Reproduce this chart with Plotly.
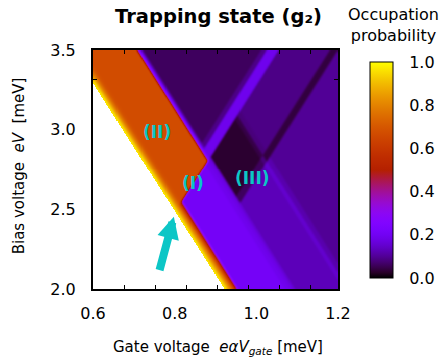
import numpy as np
import plotly.graph_objects as go

# ---------------- data ----------------
# Axis extents (meV)
GATE_RANGE = [0.6, 1.2]
BIAS_RANGE = [2.0, 3.5]
X_TICKS = [0.6, 0.8, 1.0, 1.2]
Y_TICKS = [2.0, 2.5, 3.0, 3.5]
X_MINOR = [0.676, 0.752, 0.828, 0.904, 0.980, 1.056, 1.132]
Y_MINOR = [3.316]
CB_TICKS = [0.0, 0.2, 0.4, 0.6, 0.8, 1.0]

# The map is organised by two families of resonance lines:
#   c = Vg + V/4  (lines running down-right)   d = Vg - V/4 (lines running up-right)
# Boundaries of the regions
C_EDGES = [1.4225, 1.429, 1.436, 1.443, 1.450, 1.455, 1.570, 1.582, 1.589,
           1.595, 1.714, 1.726, 1.740]
D_EDGES = [0.138, 0.152, 0.180, 0.306, 0.326]

NAN = float("nan")
# occupation probability of each region: rows = c band, columns = d band
LEVELS = [
    [NAN, NAN, NAN, NAN, NAN, NAN],              # outside computed area
    [0.97, 0.97, 0.97, 0.97, 0.97, 0.97],        # yellow edge
    [0.86, 0.86, 0.86, 0.86, 0.86, 0.86],
    [0.76, 0.76, 0.76, 0.76, 0.76, 0.76],
    [0.69, 0.69, 0.69, 0.62, 0.62, 0.62],
    [0.67, 0.67, 0.67, 0.42, 0.42, 0.42],
    [0.67, 0.67, 0.67, 0.21, 0.21, 0.21],        # (II) orange / (I) violet
    [0.67, 0.67, 0.67, 0.19, 0.19, 0.19],
    [0.26, 0.26, 0.26, 0.18, 0.18, 0.18],        # violet edge line
    [0.14, 0.14, 0.19, 0.16, 0.16, 0.16],
    [0.06, 0.09, 0.19, 0.03, 0.06, 0.13],        # (III) diamond
    [0.06, 0.09, 0.19, 0.045, 0.08, 0.15],
    [0.06, 0.09, 0.19, 0.08, 0.04, 0.12],
    [0.06, 0.09, 0.19, 0.088, 0.04, 0.10],
]

# ---------------- build the image ----------------
nx, ny = 480, 480
gate = GATE_RANGE[0] + (np.arange(nx) + 0.5) * (GATE_RANGE[1] - GATE_RANGE[0]) / nx
bias = BIAS_RANGE[0] + (np.arange(ny) + 0.5) * (BIAS_RANGE[1] - BIAS_RANGE[0]) / ny
G, B = np.meshgrid(gate, bias)
ci = np.digitize(G + B / 4.0, C_EDGES)
di = np.digitize(G - B / 4.0, D_EDGES)
Z = np.array(LEVELS, dtype=float)[ci, di]

# soften the region edges slightly, as in the rendered original (NaN area kept sharp)
mask = ~np.isnan(Z)
val = np.where(mask, Z, 0.0)
w = mask.astype(float)
k = np.ones(5) / 5.0
for _ in range(2):
    for ax_ in (0, 1):
        val = np.apply_along_axis(lambda m: np.convolve(m, k, mode="same"), ax_, val)
        w = np.apply_along_axis(lambda m: np.convolve(m, k, mode="same"), ax_, w)
Zs = np.where(mask, val / np.maximum(w, 1e-9), np.nan)
Zs = np.round(Zs, 3)

# gnuplot "rgbformulae 7,5,15" palette
cs = []
for t in np.linspace(0, 1, 41):
    r = np.sqrt(t)
    g = t ** 3
    b = max(np.sin(2 * np.pi * t), 0.0)
    cs.append([float(t), "rgb(%d,%d,%d)" % (round(255 * r), round(255 * g), round(255 * b))])

FONT = "DejaVu Sans"
CYAN = "#0cc6c6"

fig = go.Figure()
fig.add_trace(go.Heatmap(
    x=gate, y=bias, z=Zs, zmin=0, zmax=1, colorscale=cs, zsmooth=False,
    hoverongaps=False,
    colorbar=dict(
        x=1.126, xref="paper", xanchor="left", xpad=0,
        y=0.498, yanchor="middle", ypad=0,
        len=0.904, lenmode="fraction", thickness=23,
        outlinewidth=1, outlinecolor="black",
        tickmode="array", tickvals=CB_TICKS,
        ticktext=["%.1f" % t for t in CB_TICKS],
        ticks="outside", ticklen=13, tickcolor="rgba(0,0,0,0)",
        tickfont=dict(family=FONT, size=16, color="black"),
    ),
))

fig.update_xaxes(
    range=GATE_RANGE, tickmode="array", tickvals=X_TICKS,
    ticktext=["%.1f" % t for t in X_TICKS],
    ticks="inside", ticklen=0, showgrid=False, zeroline=False,
    showline=True, linecolor="black", linewidth=2, mirror="allticks",
    layer="above traces",
    minor=dict(tickmode="array", tickvals=X_MINOR, ticks="inside", ticklen=4,
               tickcolor="black", tickwidth=1, showgrid=False),
    tickfont=dict(family=FONT, size=16, color="black"),
    ticklabelstandoff=9,
)
fig.update_yaxes(
    range=BIAS_RANGE, tickmode="array", tickvals=Y_TICKS,
    ticktext=["%.1f" % t for t in Y_TICKS],
    ticks="inside", ticklen=0, showgrid=False, zeroline=False,
    showline=True, linecolor="black", linewidth=2, mirror="allticks",
    layer="above traces",
    minor=dict(tickmode="array", tickvals=Y_MINOR, ticks="inside", ticklen=4,
               tickcolor="black", tickwidth=1, showgrid=False),
    tickfont=dict(family=FONT, size=16, color="black"),
    ticklabelstandoff=12,
)

ann = [
    dict(text="Bias voltage\u00a0\u00a0<i>eV</i>\u00a0\u00a0[meV]", x=-0.3008, y=0.5146,
         xref="paper", yref="paper", xanchor="center", yanchor="middle",
         textangle=-90, showarrow=False,
         font=dict(family=FONT, size=15, color="black")),
    dict(text="Gate voltage\u00a0\u00a0<i>eαV</i><sub><i>gate</i></sub>\u00a0[meV]",
         x=0.512, y=-0.2427, xref="paper", yref="paper", xanchor="center",
         yanchor="middle", showarrow=False,
         font=dict(family=FONT, size=15, color="black")),
    dict(text="Occupation<br>probability", x=1.2276, y=1.1967, xref="paper", yref="paper",
         xanchor="center", yanchor="top", showarrow=False,
         font=dict(family=FONT, size=16, color="black")),
    dict(text="<b>(II)</b>", x=0.756, y=2.986, xref="x", yref="y", showarrow=False,
         xanchor="center", yanchor="middle",
         font=dict(family=FONT, size=17, color=CYAN)),
    dict(text="<b>(I)</b>", x=0.844, y=2.665, xref="x", yref="y", showarrow=False,
         xanchor="center", yanchor="middle",
         font=dict(family=FONT, size=17, color=CYAN)),
    dict(text="<b>(III)</b>", x=0.990, y=2.697, xref="x", yref="y", showarrow=False,
         xanchor="center", yanchor="middle",
         font=dict(family=FONT, size=17, color=CYAN)),
    dict(text="", x=0.798, y=2.454, ax=0.762, ay=2.109, xref="x", yref="y",
         axref="x", ayref="y", showarrow=True, arrowhead=2, arrowwidth=8,
         arrowsize=0.55, arrowcolor=CYAN, standoff=0),
]

fig.update_layout(
    width=446, height=360,
    margin=dict(l=93, r=107, t=50, b=71),
    paper_bgcolor="white", plot_bgcolor="white",
    title=dict(text="<b>Trapping state (g₂)</b>", x=218.5 / 446, xanchor="center",
               xref="container", y=1 - 16 / 360, yref="container", yanchor="middle",
               font=dict(family=FONT, size=19.5, color="black")),
    annotations=ann,
    showlegend=False,
)

fig.write_html("out.html", config={"displayModeBar": False},
               post_script="document.body.style.margin='0';")
